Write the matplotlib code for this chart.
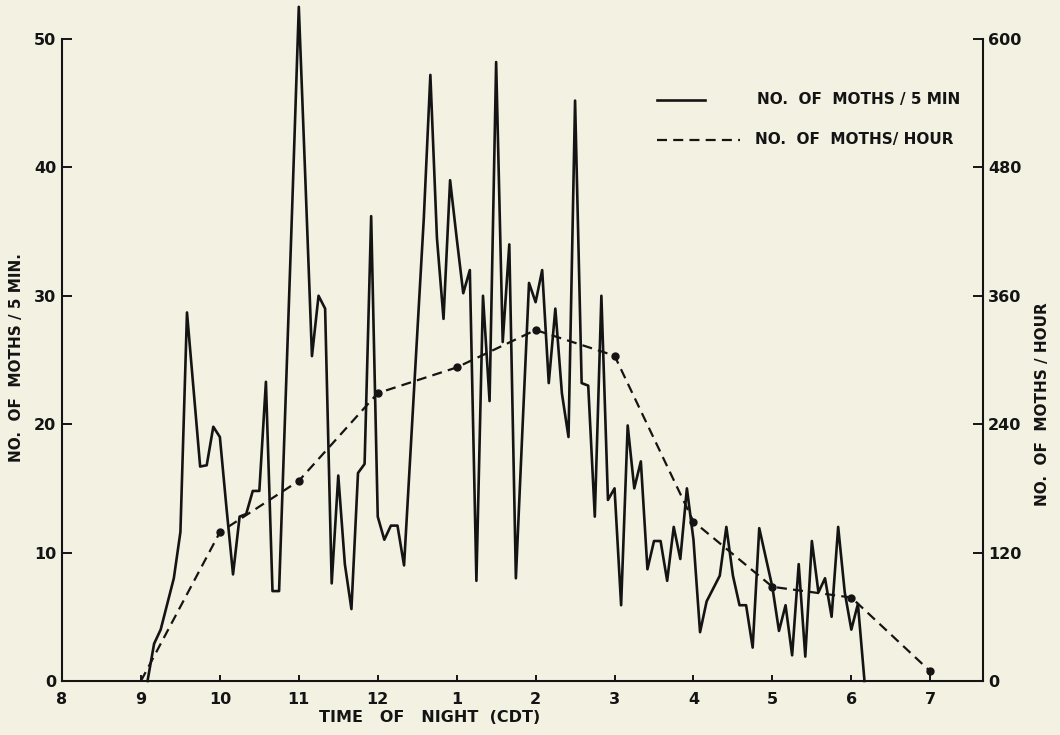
import matplotlib
matplotlib.use('Agg')
import matplotlib.pyplot as plt
import numpy as np

plt.rcParams['font.family'] = ['DejaVu Sans']
plt.rcParams['font.weight'] = 'bold'

# hour ticks (8 pm .. 7 am), written as hours after noon
hour_ticks = list(range(8, 20))
hour_labels = ['8', '9', '10', '11', '12', '1', '2', '3', '4', '5', '6', '7']

# moths per 5 min, first count at 9:05, one every 5 minutes
moths_5min = [
    0, 2.9, 4.0, 6.0, 8.0, 11.6, 28.7, 22.7, 16.7, 16.8,
    19.8, 19.0, 13.5, 8.3, 12.8, 13.0, 14.8, 14.8, 23.3, 7.0,
    7.0, 22.0, 37.0, 52.5, 39.0, 25.3, 30.0, 29.0, 7.6, 16.0,
    9.1, 5.6, 16.2, 16.9, 36.2, 12.8, 11.0, 12.1, 12.1, 9.0,
    18.0, 27.0, 36.0, 47.2, 34.5, 28.2, 39.0, 34.5, 30.2, 32.0,
    7.8, 30.0, 21.8, 48.2, 26.4, 34.0, 8.0, 19.6, 31.0, 29.5,
    32.0, 23.2, 29.0, 22.4, 19.0, 45.2, 23.2, 23.0, 12.8, 30.0,
    14.1, 15.0, 5.9, 19.9, 15.0, 17.1, 8.7, 10.9, 10.9, 7.8,
    12.0, 9.5, 15.0, 11.0, 3.8, 6.2, 7.2, 8.2, 12.0, 8.2,
    5.9, 5.9, 2.6, 11.9, 9.6, 7.3, 3.9, 5.9, 2.0, 9.1,
    1.9, 10.9, 6.9, 8.0, 5.0, 12.0, 6.9, 4.0, 6.0, 0,
]
t_5min = 9 + 5 / 60 + np.arange(len(moths_5min)) * 5 / 60

# moths per hour, at each hour mark
hour_marks = [9, 10, 11, 12, 13, 14, 15, 16, 17, 18, 19]
moths_hour = [0, 139, 187, 269, 293, 328, 304, 149, 88, 78, 9]

bg = '#f3f1e2'
ink = '#141414'

fig = plt.figure(figsize=(10.6, 7.35), dpi=100)
fig.patch.set_facecolor(bg)
ax = fig.add_axes([0.0585, 0.0735, 0.869, 0.8735])
ax.set_facecolor(bg)
ax2 = ax.twinx()

ax.plot(t_5min, moths_5min, color=ink, lw=1.9, clip_on=False)
ax2.plot(hour_marks, moths_hour, color=ink, lw=1.6, ls=(0, (4.5, 2.8)),
         marker='o', ms=5, markevery=list(range(1, len(hour_marks))))

ax.set_xlim(8, 19.67)
ax.set_ylim(0, 50)
ax2.set_ylim(0, 600)

ax.set_xticks(hour_ticks)
ax.set_xticklabels(hour_labels)
ax.set_yticks(range(0, 51, 10))
ax2.set_yticks(range(0, 601, 120))

for s in ['top', 'right']:
    ax.spines[s].set_visible(False)
for s in ['top', 'left', 'bottom']:
    ax2.spines[s].set_visible(False)
for sp in list(ax.spines.values()) + list(ax2.spines.values()):
    sp.set_linewidth(1.5)
    sp.set_color(ink)

ax.tick_params(axis='y', direction='in', length=7, width=1.4, labelsize=11.5, pad=4, colors=ink)
ax.tick_params(axis='x', direction='in', length=4.5, width=1.4, labelsize=11.5, pad=8, colors=ink)
ax2.tick_params(axis='y', direction='in', length=7, width=1.4, labelsize=11.5, pad=3.5, colors=ink)

# legend drawn by hand
ax.plot([0.646, 0.698], [0.905, 0.905], transform=ax.transAxes, color=ink, lw=1.9)
ax.text(0.755, 0.905, 'NO.  OF  MOTHS / 5 MIN', transform=ax.transAxes,
        ha='left', va='center', fontsize=11, color=ink)
ax.plot([0.646, 0.736], [0.843, 0.843], transform=ax.transAxes, color=ink, lw=1.6,
        ls=(0, (4.5, 2.8)))
ax.text(0.752, 0.843, 'NO.  OF  MOTHS/ HOUR', transform=ax.transAxes,
        ha='left', va='center', fontsize=11, color=ink)

fig.text(430 / 1060, 1 - 718 / 735, 'TIME   OF   NIGHT  (CDT)', ha='center', va='center',
         fontsize=11.5, color=ink)
fig.text(17 / 1060, 1 - 358 / 735, 'NO.  OF  MOTHS / 5 MIN.', rotation=90,
         ha='center', va='center', fontsize=11, color=ink)
fig.text(1043 / 1060, 1 - 404 / 735, 'NO.  OF  MOTHS / HOUR', rotation=90,
         ha='center', va='center', fontsize=11, color=ink)

fig.savefig('out.png', dpi=100, facecolor=bg)
